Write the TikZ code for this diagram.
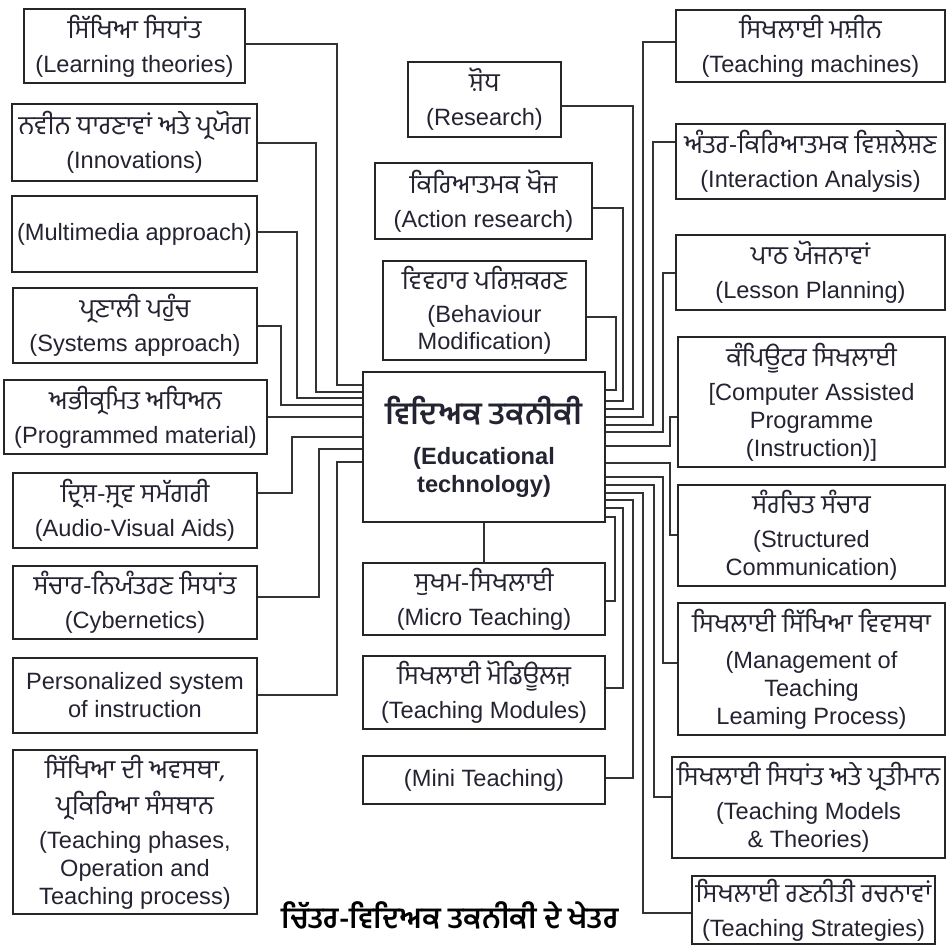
\documentclass[tikz,border=0pt]{standalone}
\usepackage{fontspec}
\setmainfont{Liberation Sans}
\newfontfamily\pa[Script=Gurmukhi]{Hind Jalandhar}
\newcommand\pj[1]{{\pa\fontsize{13}{14}\selectfont #1}}
\usepackage{tikz}

\definecolor{inkc}{RGB}{35,35,50}
\tikzset{
  box/.style={draw=black!85, line width=1.4pt, align=center, inner sep=0pt,
    text=inkc, font=\fontsize{11.8}{14}\selectfont},
  wire/.style={draw=black!80, line width=0.6pt}
}

\begin{document}
\begin{tikzpicture}[x=0.5pt,y=-0.5pt]
\useasboundingbox (0,0) rectangle (947,946);
% left column
\node[box, minimum width=110.5pt, minimum height=37pt] (lt) at (134.5,46) {\pj{ਸਿੱਖਿਆ ਸਿਧਾਂਤ}\\[3pt](Learning theories)};
\node[box, minimum width=122.5pt, minimum height=38.5pt] (in) at (134.5,142.5) {\pj{ਨਵੀਨ ਧਾਰਣਾਵਾਂ ਅਤੇ ਪ੍ਰਯੋਗ}\\[3pt](Innovations)};
\node[box, minimum width=122.5pt, minimum height=38pt] (mm) at (134.5,234) {(Multimedia approach)};
\node[box, minimum width=122pt, minimum height=37.5pt] (sy) at (135,325.5) {\pj{ਪ੍ਰਣਾਲੀ ਪਹੁੰਚ}\\[3pt](Systems approach)};
\node[box, minimum width=131.5pt, minimum height=37pt] (pm) at (135.5,417) {\pj{ਅਭੀਕ੍ਰਮਿਤ ਅਧਿਅਨ}\\[3pt](Programmed material)};
\node[box, minimum width=122pt, minimum height=37.5pt] (av) at (135,510.5) {\pj{ਦ੍ਰਿਸ਼-ਸ਼੍ਰਵ ਸਮੱਗਰੀ}\\[3pt](Audio-Visual Aids)};
\node[box, minimum width=122pt, minimum height=36.5pt] (cy) at (135,602.5) {\pj{ਸੰਚਾਰ-ਨਿਯੰਤਰਣ ਸਿਧਾਂਤ}\\[3pt](Cybernetics)};
\node[box, minimum width=122pt, minimum height=37.5pt] (ps) at (135,695.5) {Personalized system\\of instruction};
\node[box, minimum width=122pt, minimum height=82pt] (tp) at (135,832) {\pj{ਸਿੱਖਿਆ ਦੀ ਅਵਸਥਾ,}\\[4pt]\pj{ਪ੍ਰਕਿਰਿਆ ਸੰਸਥਾਨ}\\[3pt](Teaching phases,\\Operation and\\Teaching process)};
% middle column
\node[box, minimum width=76.5pt, minimum height=37.5pt] (re) at (484.5,99.5) {\pj{ਸ਼ੋਧ}\\[3pt](Research)};
\node[box, minimum width=108.5pt, minimum height=38pt] (ar) at (483.5,201) {\pj{ਕਿਰਿਆਤਮਕ ਖੋਜ}\\[3pt](Action research)};
\node[box, minimum width=101.5pt, minimum height=49.5pt, font=\fontsize{11.8}{13.5}\selectfont] (bm) at (484.5,310.5) {\pj{ਵਿਵਹਾਰ ਪਰਿਸ਼ਕਰਣ}\\[3pt](Behaviour\\Modification)};
\node[box, minimum width=121pt, minimum height=75pt, font=\fontsize{11.8}{14}\selectfont\bfseries] (c) at (484,447) {{\pa\fontsize{15.5}{16}\selectfont ਵਿਦਿਅਕ ਤਕਨੀਕੀ}\\[6pt](Educational\\technology)};
\node[box, minimum width=121pt, minimum height=36pt] (mt) at (484,599) {\pj{ਸੁਖਮ-ਸਿਖਲਾਈ}\\[3pt](Micro Teaching)};
\node[box, minimum width=121pt, minimum height=36.5pt] (tm) at (484,692.5) {\pj{ਸਿਖਲਾਈ ਮੋਡਿਊਲਜ਼}\\[3pt](Teaching Modules)};
\node[box, minimum width=121pt, minimum height=24pt] (mi) at (484,780) {(Mini Teaching)};
% right column
\node[box, minimum width=134.5pt, minimum height=36pt] (ma) at (810.5,46) {\pj{ਸਿਖਲਾਈ ਮਸ਼ੀਨ}\\[3pt](Teaching machines)};
\node[box, minimum width=134.5pt, minimum height=37.5pt] (ia) at (810.5,161.5) {\pj{ਅੰਤਰ-ਕਿਰਿਆਤਮਕ ਵਿਸ਼ਲੇਸ਼ਣ}\\[3pt](Interaction Analysis)};
\node[box, minimum width=134.5pt, minimum height=37.5pt] (lp) at (810.5,272.5) {\pj{ਪਾਠ ਯੋਜਨਾਵਾਂ}\\[3pt](Lesson Planning)};
\node[box, minimum width=133.5pt, minimum height=65pt] (ca) at (811.5,402) {\pj{ਕੰਪਿਊਟਰ ਸਿਖਲਾਈ}\\[3pt][Computer Assisted\\Programme\\(Instruction)]};
\node[box, minimum width=133.5pt, minimum height=50.5pt] (sc) at (811.5,535.5) {\pj{ਸੰਰਚਿਤ ਸੰਚਾਰ}\\[3pt](Structured\\Communication)};
\node[box, minimum width=133.5pt, minimum height=66pt] (mg) at (811.5,669) {\pj{ਸਿਖਲਾਈ ਸਿੱਖਿਆ ਵਿਵਸਥਾ}\\[4pt](Management of\\Teaching\\Leaming Process)};
\node[box, minimum width=136.5pt, minimum height=50.5pt] (mo) at (808.5,807.5) {\pj{ਸਿਖਲਾਈ ਸਿਧਾਂਤ ਅਤੇ ਪ੍ਰਤੀਮਾਨ}\\[3pt](Teaching Models\\\& Theories)};
\node[box, minimum width=121.5pt, minimum height=34pt] (st) at (813.5,910) {\pj{ਸਿਖਲਾਈ ਰਣਨੀਤੀ ਰਚਨਾਵਾਂ}\\[3pt](Teaching Strategies)};
% caption
\node[font=\pa\fontsize{14.7}{16}\selectfont\bfseries, inner sep=0pt] (cap) at (450,915) {ਚਿੱਤਰ-ਵਿਦਿਅਕ ਤਕਨੀਕੀ ਦੇ ਖੇਤਰ};
% left connectors
\draw[wire] (lt.east |- 0,44) -| (337,385) -- (c.west |- 0,385);
\draw[wire] (in.east |- 0,143) -| (316,392) -- (c.west |- 0,392);
\draw[wire] (mm.east |- 0,232) -| (297,398) -- (c.west |- 0,398);
\draw[wire] (sy.east |- 0,326) -| (281,405) -- (c.west |- 0,405);
\draw[wire] (pm.east) -- (c.west |- pm.east);
\draw[wire] (av.east |- 0,493) -| (292,437) -- (c.west |- 0,437);
\draw[wire] (cy.east |- 0,597) -| (319,449) -- (c.west |- 0,449);
\draw[wire] (ps.east |- 0,695) -| (337,462) -- (c.west |- 0,462);
% right connectors, upper
\draw[wire] (c.east |- 0,390) -| (616,317) -- (bm.east |- 0,317);
\draw[wire] (c.east |- 0,401) -| (623,208) -- (ar.east |- 0,208);
\draw[wire] (c.east |- 0,409) -| (633,106) -- (re.east |- 0,106);
\draw[wire] (c.east |- 0,417) -| (643,42) -- (ma.west |- 0,42);
\draw[wire] (c.east |- 0,425) -| (653,142) -- (ia.west |- 0,142);
\draw[wire] (c.east |- 0,432) -| (663,273) -- (lp.west |- 0,273);
\draw[wire] (c.east |- 0,446) -| (670,417) -- (ca.west |- 0,417);
% right connectors, lower
\draw[wire] (c.east |- 0,463) -| (670,535) -- (sc.west |- 0,535);
\draw[wire] (c.east |- 0,477) -| (663,663) -- (mg.west |- 0,663);
\draw[wire] (c.east |- 0,485) -| (654,797) -- (mo.west |- 0,797);
\draw[wire] (c.east |- 0,493) -| (643,913) -- (st.west |- 0,913);
\draw[wire] (c.east |- 0,500) -| (633,778) -- (mi.east |- 0,778);
\draw[wire] (c.east |- 0,508) -| (623,688) -- (tm.east |- 0,688);
\draw[wire] (c.east |- 0,517) -| (615,601) -- (mt.east |- 0,601);
\draw[wire] (c.south) -- (mt.north);
\end{tikzpicture}
\end{document}
